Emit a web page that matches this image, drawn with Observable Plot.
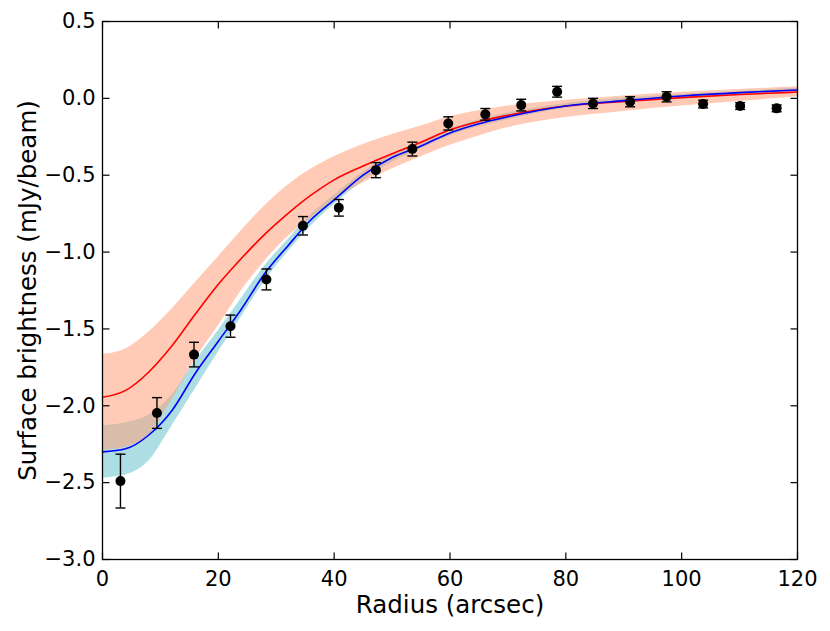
<!DOCTYPE html>
<html><head><meta charset="utf-8">
<script src="https://cdn.jsdelivr.net/npm/d3@7"></script>
<script src="https://cdn.jsdelivr.net/npm/@observablehq/plot@0.6"></script>
<style>body{margin:0;background:#fff;} #chart svg{display:block;}</style>
</head><body><div id="chart"></div>
<script>
// Observed radial profile points
const pointX = [3.1, 9.4, 15.8, 22.1, 28.3, 34.6, 40.8, 47.2, 53.5, 59.7, 66.1, 72.3, 78.5, 84.7, 91.1, 97.4, 103.7, 110.1, 116.4];
const pointY = [-2.49, -2.047, -1.667, -1.482, -1.178, -0.829, -0.712, -0.467, -0.33, -0.163, -0.104, -0.044, 0.043, -0.033, -0.022, 0.01, -0.037, -0.05, -0.065];
const pointErr = [0.175, 0.10, 0.08, 0.072, 0.068, 0.06, 0.054, 0.049, 0.045, 0.043, 0.038, 0.038, 0.035, 0.033, 0.033, 0.033, 0.025, 0.022, 0.022];

// Model curves sampled at these radii
const modelX = [0, 4, 8, 12, 16, 20, 24, 28, 32, 36, 40, 45, 50, 55, 60, 65, 70, 80, 90, 100, 110, 120];
const redLineY = [-1.945, -1.90, -1.78, -1.61, -1.405, -1.21, -1.04, -0.885, -0.75, -0.63, -0.53, -0.44, -0.36, -0.285, -0.205, -0.15, -0.11, -0.05, -0.02, 0.005, 0.025, 0.041];
const redBandHi = [-1.665, -1.63, -1.52, -1.37, -1.20, -1.03, -0.86, -0.70, -0.565, -0.46, -0.38, -0.30, -0.235, -0.18, -0.12, -0.08, -0.05, -0.012, 0.015, 0.04, 0.058, 0.075];
const redBandLo = [-2.29, -2.27, -2.19, -1.96, -1.70, -1.48, -1.25, -1.06, -0.90, -0.78, -0.66, -0.55, -0.46, -0.38, -0.305, -0.245, -0.19, -0.125, -0.085, -0.05, -0.02, 0.01];
const blueLineY = [-2.30, -2.28, -2.19, -2.03, -1.79, -1.58, -1.37, -1.14, -0.96, -0.79, -0.66, -0.50, -0.385, -0.31, -0.225, -0.165, -0.12, -0.05, -0.015, 0.015, 0.037, 0.054];
const blueBandHi = [-2.13, -2.11, -2.06, -1.93, -1.71, -1.51, -1.30, -1.09, -0.92, -0.755, -0.63, -0.48, -0.365, -0.285, -0.20, -0.14, -0.095, -0.035, 0.0, 0.027, 0.047, 0.065];
const blueBandLo = [-2.47, -2.45, -2.36, -2.13, -1.89, -1.65, -1.42, -1.19, -1.00, -0.83, -0.69, -0.54, -0.415, -0.33, -0.245, -0.185, -0.14, -0.065, -0.03, -0.003, 0.025, 0.043];

// Axis ticks
const xTicks = [0, 20, 40, 60, 80, 100, 120];
const yTicks = [0.5, 0.0, -0.5, -1.0, -1.5, -2.0, -2.5, -3.0];
const xLabel = "Radius (arcsec)";
const yLabel = "Surface brightness (mJy/beam)";

const points = pointX.map((x, i) => ({x, y: pointY[i], lo: pointY[i] - pointErr[i], hi: pointY[i] + pointErr[i]}));
const model = modelX.map((x, i) => ({
  x, red: redLineY[i], redHi: redBandHi[i], redLo: redBandLo[i],
  blue: blueLineY[i], blueHi: blueBandHi[i], blueLo: blueBandLo[i]
}));

const TL = 7; // tick length (px)
const tickUp = {draw(c) { c.moveTo(0, 0); c.lineTo(0, -TL); }};
const tickDown = {draw(c) { c.moveTo(0, 0); c.lineTo(0, TL); }};
const tickRight = {draw(c) { c.moveTo(0, 0); c.lineTo(TL, 0); }};
const tickLeft = {draw(c) { c.moveTo(0, 0); c.lineTo(-TL, 0); }};
const capSym = {draw(c) { c.moveTo(-5, 0); c.lineTo(5, 0); }};

const fmtY = d3.format(".1f");

const chart = Plot.plot({
  width: 830,
  height: 631,
  marginLeft: 102,
  marginRight: 33,
  marginTop: 21,
  marginBottom: 72,
  style: {fontFamily: "DejaVu Sans", background: "white", color: "black"},
  x: {domain: [0, 120]},
  y: {domain: [-3.0, 0.5]},
  marks: [
    Plot.areaY(model, {x: "x", y1: "blueLo", y2: "blueHi", fill: "#a9dce3", fillOpacity: 0.95, curve: "monotone-x"}),
    Plot.areaY(model, {x: "x", y1: "redLo", y2: "redHi", fill: "#ffa07a", fillOpacity: 0.55, curve: "monotone-x"}),
    Plot.line(model, {x: "x", y: "red", stroke: "#ff0000", strokeWidth: 1.6, curve: "monotone-x"}),
    Plot.line(model, {x: "x", y: "blue", stroke: "#0000ff", strokeWidth: 1.6, curve: "monotone-x"}),
    Plot.ruleX(points, {x: "x", y1: "lo", y2: "hi", stroke: "black", strokeWidth: 1.4}),
    Plot.dot(points, {x: "x", y: "hi", symbol: capSym, stroke: "black", fill: "none", strokeWidth: 1.4}),
    Plot.dot(points, {x: "x", y: "lo", symbol: capSym, stroke: "black", fill: "none", strokeWidth: 1.4}),
    Plot.dot(points, {x: "x", y: "y", r: 5, fill: "black", stroke: "none"}),
    Plot.frame({stroke: "black", strokeWidth: 1.3}),
    // inward ticks on all four sides
    Plot.dot(xTicks, {x: d => d, frameAnchor: "bottom", symbol: tickUp, stroke: "black", fill: "none", strokeWidth: 1.2}),
    Plot.dot(xTicks, {x: d => d, frameAnchor: "top", symbol: tickDown, stroke: "black", fill: "none", strokeWidth: 1.2}),
    Plot.dot(yTicks, {y: d => d, frameAnchor: "left", symbol: tickRight, stroke: "black", fill: "none", strokeWidth: 1.2}),
    Plot.dot(yTicks, {y: d => d, frameAnchor: "right", symbol: tickLeft, stroke: "black", fill: "none", strokeWidth: 1.2}),
    Plot.axisX({ticks: xTicks, tickSize: 0, tickPadding: 12, fontSize: 21, tickFormat: d3.format("d"), label: null}),
    Plot.axisY({ticks: yTicks, tickSize: 0, tickPadding: 7, fontSize: 21, tickFormat: fmtY, label: null}),
    Plot.text([xLabel], {text: d => d, frameAnchor: "bottom", textAnchor: "middle", lineAnchor: "middle", dy: 46, fontSize: 24.5, fill: "black"}),
    Plot.text([yLabel], {text: d => d, frameAnchor: "left", textAnchor: "middle", lineAnchor: "middle", dx: -74, rotate: -90, fontSize: 24.5, fill: "black"})
  ]
});
document.getElementById("chart").appendChild(chart);
</script>
</body></html>
